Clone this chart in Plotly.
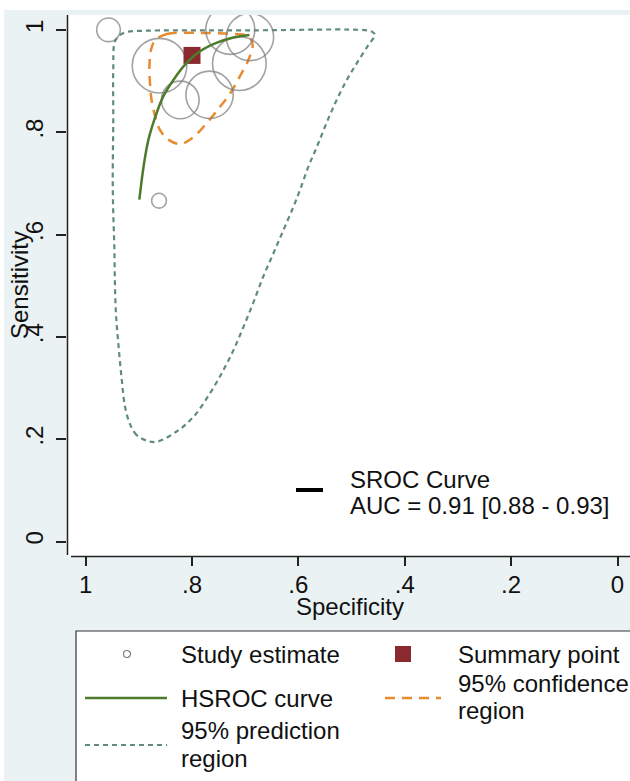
import plotly.graph_objects as go

# ---------------- data ----------------
# study estimates (specificity, sensitivity, relative weight)
study_spec = [0.957, 0.728, 0.691, 0.861, 0.711, 0.822, 0.767, 0.862]
study_sens = [1.000, 1.000, 0.986, 0.930, 0.934, 0.863, 0.873, 0.666]
study_weight = [28, 120, 112, 149, 144, 71, 112, 11]

# summary point
summary_spec = [0.800]
summary_sens = [0.950]

# HSROC curve
hsroc_spec = [0.899, 0.891, 0.882, 0.869, 0.854, 0.835, 0.813, 0.785, 0.753, 0.722, 0.692]
hsroc_sens = [0.668, 0.733, 0.785, 0.830, 0.870, 0.902, 0.932, 0.958, 0.975, 0.985, 0.990]

# 95% confidence region
conf_spec = [0.869, 0.847, 0.785, 0.722, 0.694, 0.686, 0.694, 0.710, 0.728, 0.747, 0.772,
             0.800, 0.822, 0.844, 0.860, 0.869, 0.876, 0.879, 0.880, 0.877, 0.869]
conf_sens = [0.980, 0.992, 0.994, 0.992, 0.988, 0.971, 0.941, 0.909, 0.876, 0.850, 0.818,
             0.788, 0.777, 0.785, 0.804, 0.830, 0.863, 0.896, 0.928, 0.961, 0.980]

# 95% prediction region
pred_spec = [0.885, 0.904, 0.916, 0.926, 0.932, 0.938, 0.943, 0.945, 0.946, 0.948, 0.949,
             0.948, 0.948, 0.945, 0.935, 0.923, 0.898, 0.691, 0.471, 0.461, 0.456,
             0.468, 0.490, 0.509, 0.528, 0.547, 0.565, 0.581, 0.597, 0.609, 0.628,
             0.647, 0.666, 0.685, 0.703, 0.722, 0.741, 0.766, 0.797, 0.829, 0.866, 0.885]
pred_sens = [0.197, 0.208, 0.228, 0.264, 0.316, 0.381, 0.446, 0.511, 0.576, 0.642, 0.707,
             0.824, 0.922, 0.977, 0.990, 0.996, 0.998, 0.999, 0.999, 0.996, 0.990,
             0.971, 0.935, 0.902, 0.863, 0.818, 0.772, 0.733, 0.687, 0.655, 0.609,
             0.563, 0.518, 0.466, 0.420, 0.374, 0.335, 0.290, 0.244, 0.215, 0.195, 0.197]

tick_vals = [0, 0.2, 0.4, 0.6, 0.8, 1]
tick_text = ["0", ".2", ".4", ".6", ".8", "1"]

auc_lines = ["SROC Curve", "AUC = 0.91 [0.88 - 0.93]"]

# ---------------- styling ----------------
W, H = 630, 781
ML, MR, MT, MB = 67, 0, 15, 225
PW, PH = W - ML - MR, H - MT - MB
FONT = "Liberation Sans, Arial, sans-serif"
FS = 24
BG = "#eaf2f3"
C_STUDY = "#7c7c7c"
C_SUM = "#8b2a2e"
C_HS = "#4d7b2c"
C_CONF = "#e88a2e"
C_PRED = "#5f8b80"


def X(px):
    return (px - ML) / PW


def Y(py):
    return (H - MB - py) / PH


fig = go.Figure()

fig.add_trace(go.Scatter(x=pred_spec, y=pred_sens, mode="lines",
                         line=dict(color=C_PRED, width=2.2, dash="5px,4px"),
                         line_shape="spline", hoverinfo="skip"))
fig.add_trace(go.Scatter(x=conf_spec, y=conf_sens, mode="lines",
                         line=dict(color=C_CONF, width=2.5, dash="10px,7px"),
                         line_shape="spline", hoverinfo="skip"))
fig.add_trace(go.Scatter(x=study_spec, y=study_sens, mode="markers",
                         marker=dict(size=study_weight, sizemode="area", sizeref=0.1,
                                     color="rgba(0,0,0,0)",
                                     line=dict(color=C_STUDY, width=1.6))))
fig.add_trace(go.Scatter(x=summary_spec, y=summary_sens, mode="markers",
                         marker=dict(symbol="square", size=17, color=C_SUM)))
fig.add_trace(go.Scatter(x=hsroc_spec, y=hsroc_sens, mode="lines",
                         line=dict(color=C_HS, width=2.5), line_shape="spline"))

shapes = [
    # graph region background
    dict(type="rect", xref="paper", yref="paper", x0=X(4), x1=X(W + 10), y0=Y(10), y1=Y(H + 10),
         fillcolor=BG, line=dict(width=0), layer="below"),
    # plot region
    dict(type="rect", xref="paper", yref="paper", x0=X(68), x1=X(W + 10), y0=Y(15), y1=Y(556),
         fillcolor="white", line=dict(width=0), layer="below"),
    # x axis line
    dict(type="line", xref="paper", yref="paper", x0=X(71), x1=X(W + 10), y0=Y(556.5), y1=Y(556.5),
         line=dict(color="#222", width=1.5)),
    # y axis line
    dict(type="line", xref="paper", yref="paper", x0=X(67.5), x1=X(67.5), y0=Y(15), y1=Y(555),
         line=dict(color="#222", width=1.5)),
    # SROC legend key
    dict(type="line", xref="paper", yref="paper", x0=X(296), x1=X(323), y0=Y(490), y1=Y(490),
         line=dict(color="black", width=4)),
    # legend box
    dict(type="rect", xref="paper", yref="paper", x0=X(76), x1=X(W + 10), y0=Y(631), y1=Y(H + 10),
         fillcolor="white", line=dict(color="#333", width=1.2)),
    # legend keys
    dict(type="circle", xref="paper", yref="paper", x0=X(123.5), x1=X(130.5), y0=Y(650.5), y1=Y(657.5),
         line=dict(color=C_STUDY, width=1.2)),
    dict(type="rect", xref="paper", yref="paper", x0=X(395), x1=X(411), y0=Y(646), y1=Y(662),
         fillcolor=C_SUM, line=dict(width=0)),
    dict(type="line", xref="paper", yref="paper", x0=X(85), x1=X(167), y0=Y(698), y1=Y(698),
         line=dict(color=C_HS, width=2.5)),
    dict(type="line", xref="paper", yref="paper", x0=X(385), x1=X(441), y0=Y(698), y1=Y(698),
         line=dict(color=C_CONF, width=2.5, dash="10px,7px")),
    dict(type="line", xref="paper", yref="paper", x0=X(85), x1=X(167), y0=Y(745), y1=Y(745),
         line=dict(color=C_PRED, width=2.2, dash="5px,4px")),
]

tf = dict(family=FONT, size=FS, color="#111")


def txt(px, py, s, xanchor="left", yanchor="middle", angle=0):
    return dict(xref="paper", yref="paper", x=X(px), y=Y(py), text=s, showarrow=False,
                xanchor=xanchor, yanchor=yanchor, align="left", font=tf, textangle=angle)


annotations = [
    txt(350, 606, "Specificity", xanchor="center"),
    txt(19, 285, "Sensitivity", xanchor="center", angle=-90),
    txt(348, 479, auc_lines[0]),
    txt(348, 506, auc_lines[1]),
    txt(179, 654, "Study estimate"),
    txt(456, 654, "Summary point"),
    txt(179, 698, "HSROC curve"),
    txt(456, 684, "95% confidence"),
    txt(456, 710, "region"),
    txt(179, 731, "95% prediction"),
    txt(179, 758, "region"),
]

fig.update_layout(
    width=W, height=H,
    margin=dict(l=ML, r=MR, t=MT, b=MB, pad=0),
    paper_bgcolor="white", plot_bgcolor="white",
    showlegend=False,
    font=tf,
    shapes=shapes, annotations=annotations,
    xaxis=dict(range=[1.035, -0.0235], tickvals=tick_vals, ticktext=tick_text,
               showgrid=False, zeroline=False, showline=False,
               ticks="outside", ticklen=9, tickwidth=1.5, tickcolor="#222",
               ticklabelstandoff=-2, tickfont=tf),
    yaxis=dict(range=[-0.0283, 1.029], tickvals=tick_vals, ticktext=tick_text,
               showgrid=False, zeroline=False, showline=False,
               ticks="outside", ticklen=10, tickwidth=1.5, tickcolor="#222",
               tickangle=-90, ticklabelstandoff=3, tickfont=tf),
)

fig.write_html("out.html", config={"displayModeBar": False},
               post_script="document.body.style.margin='0';document.body.style.overflow='hidden';")
